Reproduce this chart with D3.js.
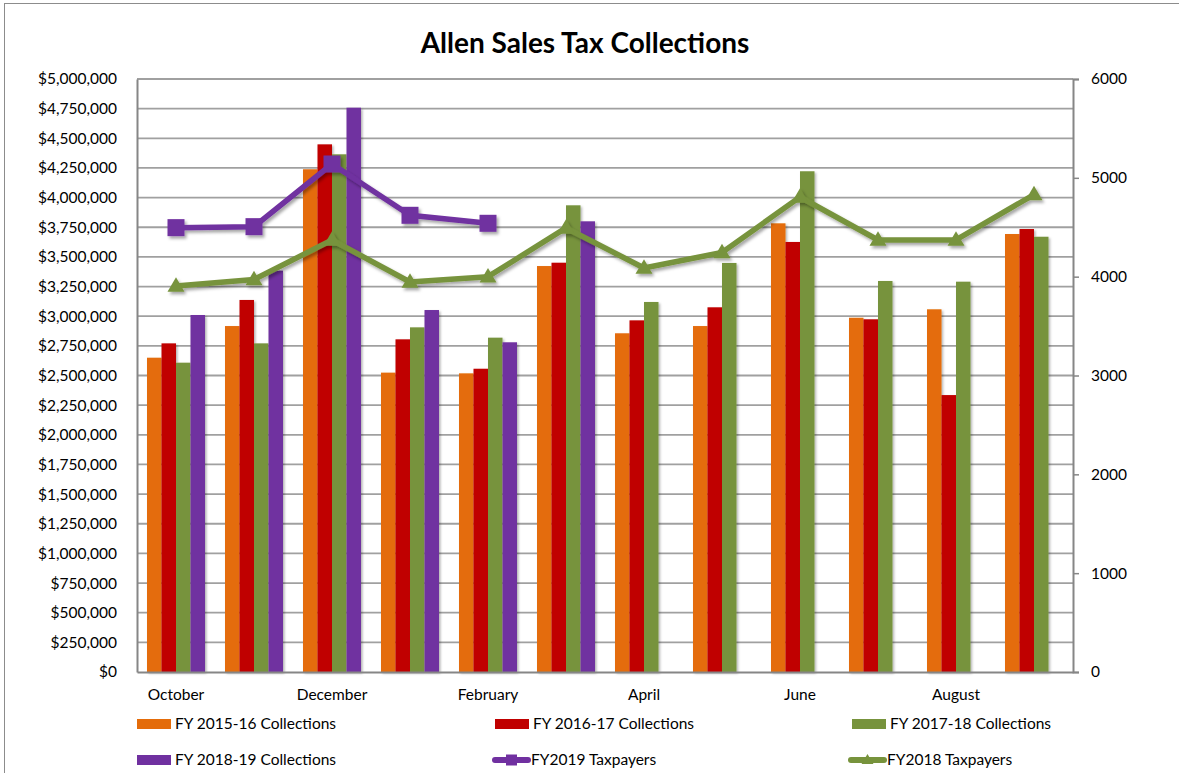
<!DOCTYPE html>
<html><head><meta charset="utf-8">
<script src="https://cdn.jsdelivr.net/npm/d3@7"></script>
<style>
html,body{margin:0;padding:0;background:#fff;}
svg{display:block;font-family:Lato,"Open Sans",sans-serif;}
</style></head>
<body>
<svg id="chart" width="1179" height="773"></svg>
<script>
const months = ["October","November","December","January","February","March","April","May","June","July","August","September"];
const shownMonths = ["October","December","February","April","June","August"];
const fy1516 = [2650000, 2917000, 4239000, 2524000, 2518000, 3423000, 2856000, 2917000, 3783000, 2987000, 3058000, 3693000];
const fy1617 = [2771000, 3137000, 4449000, 2805000, 2557000, 3451000, 2965000, 3075000, 3626000, 2974000, 2335000, 3735000];
const fy1718 = [2608000, 2771000, 4365000, 2906000, 2819000, 3935000, 3120000, 3449000, 4222000, 3297000, 3291000, 3670000];
const fy1819 = [3010000, 3384000, 4758000, 3052000, 2780000, 3800000, null, null, null, null, null, null];
const tp2019 = [4496, 4506, 5140, 4621, 4540, null, null, null, null, null, null, null];
const tp2018 = [3906, 3971, 4371, 3946, 4000, 4493, 4088, 4245, 4806, 4371, 4371, 4831];
const leftTicks = d3.range(0, 5000001, 250000);
const rightTicks = [0, 1000, 2000, 3000, 4000, 5000, 6000];

const barSeries = [
  {name:"FY 2015-16 Collections", values:fy1516, color:"#E46C0A"},
  {name:"FY 2016-17 Collections", values:fy1617, color:"#C00000"},
  {name:"FY 2017-18 Collections", values:fy1718, color:"#77933C"},
  {name:"FY 2018-19 Collections", values:fy1819, color:"#7030A0"}
];
const lineSeries = [
  {name:"FY2019 Taxpayers", values:tp2019, color:"#7030A0", marker:"square"},
  {name:"FY2018 Taxpayers", values:tp2018, color:"#77933C", marker:"triangle"}
];

const svg = d3.select("#chart");
const L = 137, R = 1073, T = 79, B = 672;

const defs = svg.append("defs");
const f1 = defs.append("filter").attr("id","sh").attr("x","-20%").attr("y","-20%").attr("width","160%").attr("height","160%");
f1.append("feDropShadow").attr("dx",1.5).attr("dy",1.5).attr("stdDeviation",1).attr("flood-color","#000").attr("flood-opacity",0.3);
const f2 = defs.append("filter").attr("id","sh2").attr("x","-20%").attr("y","-20%").attr("width","160%").attr("height","160%");
f2.append("feDropShadow").attr("dx",2).attr("dy",2.5).attr("stdDeviation",1.5).attr("flood-color","#000").attr("flood-opacity",0.35);

// outer border
svg.append("rect").attr("x",4.5).attr("y",3.5).attr("width",1200).attr("height",800)
  .attr("fill","none").attr("stroke","#8c8c8c").attr("stroke-width",1);

const x = d3.scaleBand().domain(months).range([L, R]).paddingInner(20/78).paddingOuter(10/78);
const xs = d3.scaleBand().domain(barSeries.map(s=>s.name)).range([0, x.bandwidth()]);
const y = d3.scaleLinear().domain([0, 5000000]).range([B, T]);
const y2 = d3.scaleLinear().domain([0, 6000]).range([B, T]);

// title
svg.append("text").attr("x",585).attr("y",53).attr("text-anchor","middle")
  .attr("font-weight","bold").attr("font-size",28).attr("fill","#000")
  .text("Allen Sales Tax Collections");

// gridlines
svg.append("g").selectAll("line").data(leftTicks.slice(1)).join("line")
  .attr("x1",L).attr("x2",R).attr("y1",d=>y(d)).attr("y2",d=>y(d))
  .attr("stroke","#a0a0a0").attr("stroke-width",1.8);

// left axis
const fmt = d => "$" + d3.format(",")(d);
const gl = svg.append("g").attr("transform",`translate(${L},0)`)
  .call(d3.axisLeft(y).tickValues(leftTicks).tickFormat(fmt).tickSize(0).tickPadding(20));
gl.select(".domain").attr("stroke","#868686").attr("stroke-width",2);
gl.selectAll("text").attr("font-size",15.5).attr("fill","#000").attr("font-family","Lato");

// right axis
const gr = svg.append("g").attr("transform",`translate(${R},0)`)
  .call(d3.axisRight(y2).tickValues(rightTicks).tickSize(6).tickPadding(12).tickFormat(d3.format("d")));
gr.select(".domain").attr("stroke","#868686").attr("stroke-width",2);
gr.selectAll("line").attr("stroke","#868686").attr("stroke-width",1.5);
gr.selectAll("text").attr("font-size",15.5).attr("fill","#000").attr("font-family","Lato");

// bars
const gb = svg.append("g").attr("filter","url(#sh)");
barSeries.forEach(s => {
  gb.append("g").selectAll("rect")
    .data(months.map((m,i)=>({m, v:s.values[i]})).filter(d=>d.v!=null))
    .join("rect")
    .attr("x", d => x(d.m) + xs(s.name))
    .attr("width", xs.bandwidth())
    .attr("y", d => y(d.v))
    .attr("height", d => B - y(d.v))
    .attr("fill", s.color);
});

// bottom axis
const gx = svg.append("g").attr("transform",`translate(0,${B})`)
  .call(d3.axisBottom(x).tickSize(0).tickPadding(17).tickFormat(d => shownMonths.includes(d) ? d : ""));
gx.select(".domain").attr("stroke","#868686").attr("stroke-width",2);
gx.selectAll("text").attr("font-size",15.5).attr("fill","#000").attr("font-family","Lato");

// lines
const sq = 17, tri = 17;
function markerPath(type, size){
  if(type==="square") return d3.symbol().type(d3.symbolSquare).size(size*size)();
  const h = size*0.85;
  return `M0,${-h*0.6}L${size/2},${h*0.4}L${-size/2},${h*0.4}Z`;
}
lineSeries.forEach(s => {
  const pts = months.map((m,i)=>({m, v:s.values[i]})).filter(d=>d.v!=null);
  const g = svg.append("g").attr("filter","url(#sh2)");
  g.append("path").datum(pts)
    .attr("d", d3.line().x(d=>x(d.m)+x.bandwidth()/2).y(d=>y2(d.v)))
    .attr("fill","none").attr("stroke",s.color).attr("stroke-width",5.5).attr("stroke-linejoin","round");
  g.selectAll(".mk").data(pts).join("path")
    .attr("transform", d=>`translate(${x(d.m)+x.bandwidth()/2},${y2(d.v)})`)
    .attr("d", markerPath(s.marker, s.marker==="square"?sq:tri))
    .attr("fill", s.color);
});

// legend
const legendItems = [
  {s:barSeries[0], type:"bar", x:137, y:724},
  {s:barSeries[1], type:"bar", x:495, y:724},
  {s:barSeries[2], type:"bar", x:852, y:724},
  {s:barSeries[3], type:"bar", x:137, y:760},
  {s:lineSeries[0], type:"line", x:492, y:760},
  {s:lineSeries[1], type:"line", x:848, y:760}
];
const lg = svg.append("g");
legendItems.forEach(it => {
  const g = lg.append("g");
  if(it.type==="bar"){
    g.append("rect").attr("x",it.x).attr("y",it.y-5).attr("width",34).attr("height",10).attr("fill",it.s.color);
    g.append("text").attr("x",it.x+38).attr("y",it.y).attr("dy","0.35em")
      .attr("font-size",15.5).attr("fill","#000").text(it.s.name);
  } else {
    g.append("line").attr("x1",it.x+3).attr("x2",it.x+36).attr("y1",it.y).attr("y2",it.y)
      .attr("stroke",it.s.color).attr("stroke-width",6).attr("stroke-linecap","round");
    g.append("path").attr("transform",`translate(${it.x+19.5},${it.y})`)
      .attr("d", it.s.marker==="square" ? d3.symbol().type(d3.symbolSquare).size(121)() : markerPath("triangle",12))
      .attr("fill",it.s.color);
    g.append("text").attr("x",it.x+39).attr("y",it.y).attr("dy","0.35em")
      .attr("font-size",15.5).attr("fill","#000").text(it.s.name);
  }
});
</script>
</body></html>
